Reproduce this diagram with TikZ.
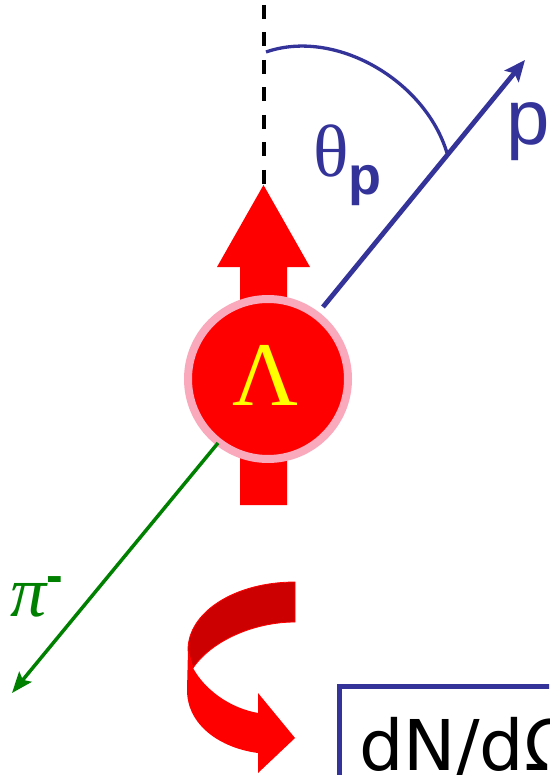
\documentclass[tikz,border=0pt]{standalone}
\usepackage{fontspec}
\newfontfamily\libsans{Liberation Sans}
\newfontfamily\libserif{Liberation Serif}
\newfontfamily\dejavu{DejaVu Sans}
\usetikzlibrary{arrows.meta}
\definecolor{pblue}{HTML}{333399}
\definecolor{spinred}{HTML}{FF0000}
\definecolor{darkred}{HTML}{CC0000}
\definecolor{ringpink}{HTML}{F9A9BB}
\definecolor{pigreen}{HTML}{008000}
\definecolor{lamyellow}{HTML}{FFFF00}
\tikzset{
  axisline/.style={black,line width=4pt,dash pattern=on 14pt off 13.5pt},
  spinarrow/.style={fill=spinred},
  lambdaball/.style={circle,fill=spinred,draw=ringpink,line width=8pt,minimum size=160pt,inner sep=0pt},
  lamtext/.style={text=lamyellow,font=\libserif\fontsize{91}{91}\selectfont,inner sep=0pt,anchor=base},
  protonline/.style={pblue,line width=4.8pt,-{Stealth[length=21pt,width=18pt,inset=4pt]}},
  pionline/.style={pigreen,line width=3.5pt,-{Stealth[length=21pt,width=16pt,inset=4pt]}},
  angarc/.style={pblue,line width=3.3pt},
  bluelabel/.style={text=pblue,inner sep=0pt,anchor=base west},
  greenlabel/.style={text=pigreen,inner sep=0pt,anchor=base west},
  ribbondark/.style={fill=darkred,draw=spinred,line width=0.8pt},
  ribbonlight/.style={fill=spinred},
  boxline/.style={pblue,line width=5pt},
  fluxtext/.style={text=black,font=\dejavu\fontsize{70}{70}\selectfont,inner sep=0pt,anchor=base west}
}
\begin{document}
\begin{tikzpicture}[x=1pt,y=-1pt]
\clip (0,0) rectangle (549,775);
\fill[white] (0,0) rectangle (549,775);

% vertical dashed axis
\coordinate (axtop) at (263.5,5);
\coordinate (axbot) at (263.5,186);
\draw[axisline] (axtop) -- (axbot);

% spin arrow
\fill[spinarrow] (263.5,185) -- (310,267) -- (287,267) -- (287,505) -- (240,505) -- (240,267) -- (217,267) -- cycle;

% Lambda
\node[lambdaball] (lam) at (268,379) {};
\node[lamtext] (lamlabel) at (265,405) {Λ};

% proton
\coordinate (pstart) at (323,307);
\coordinate (ptip) at (525,60);
\draw[protonline] (pstart) -- (ptip);
\node[bluelabel,font=\libsans\fontsize{78}{78}\selectfont] (plab) at (506,145) {p};

% angle arc
\coordinate (arcstart) at (266,52);
\coordinate (arcend) at (447,153);
\draw[angarc] (arcstart) .. controls (335,28) and (425,80) .. (arcend);
\node[bluelabel] (thetalab) at (313,177)
  {{\libserif\fontsize{74}{74}\selectfont θ}\raisebox{-18pt}{\libsans\bfseries\fontsize{54}{54}\selectfont p}};

% pion
\coordinate (pistart) at (218,443);
\coordinate (pitip) at (12,693);
\draw[pionline] (pistart) -- (pitip);
\node[greenlabel] (pilab) at (10,616)
  {{\libserif\itshape\fontsize{72}{72}\selectfont π}\raisebox{24pt}{\libsans\bfseries\fontsize{50}{50}\selectfont -}};

% curved ribbon arrow
\fill[ribbondark] (295,582) .. controls (235,582) and (188,612) .. (188,650)
  -- (193,668) .. controls (212,640) and (255,622) .. (295,622) -- cycle;
\fill[ribbonlight] (188,650) -- (187,690) .. controls (187,725) and (220,748) .. (258,753)
  -- (258,773) -- (295,738) -- (258,693) -- (258,713)
  .. controls (230,708) and (205,690) .. (193,668) -- cycle;

% result box
\coordinate (boxcorner) at (339.5,686);
\draw[boxline] (boxcorner) rectangle ++(300,150);
\node[fluxtext] (fluxlabel) at (359,770) {dN/dΩ};
\end{tikzpicture}
\end{document}
